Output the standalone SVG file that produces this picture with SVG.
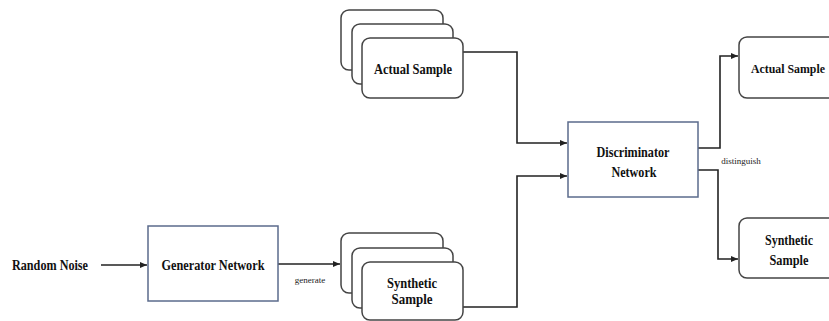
<svg xmlns="http://www.w3.org/2000/svg" width="829" height="321" viewBox="0 0 829 321">
<style>
.lbl{font-family:"Liberation Serif","Times New Roman",serif;font-weight:bold;font-size:14.5px;fill:#111;text-anchor:middle}
.sm{font-family:"Liberation Serif","Times New Roman",serif;font-size:9px;fill:#222;text-anchor:middle}
.net{fill:#fff;stroke:#5b6b8c;stroke-width:1.5}
.card{fill:#fff;stroke:#444;stroke-width:1.5}
.con{fill:none;stroke:#222;stroke-width:1.6}
</style>
<defs>
<marker id="ah" markerWidth="8" markerHeight="8" refX="7" refY="4" orient="auto" markerUnits="userSpaceOnUse">
<path d="M0,1 L7,4 L0,7 Z" fill="#222"/>
</marker>
</defs>
<rect width="829" height="321" fill="#fff"/>
<g id="connectors">
<path class="con" d="M101,265 H147" marker-end="url(#ah)"/>
<path class="con" d="M278,264 H340" marker-end="url(#ah)"/>
<path class="con" d="M463,52 H517 V143 H567" marker-end="url(#ah)"/>
<path class="con" d="M463,307 H517 V176 H567" marker-end="url(#ah)"/>
<path class="con" d="M698,148 H720 V56 H738" marker-end="url(#ah)"/>
<path class="con" d="M698,170 H718 V259 H738" marker-end="url(#ah)"/>
<text class="sm" x="310" y="283">generate</text>
<text class="sm" x="741" y="164">distinguish</text>
</g>
<g id="random-noise">
<text class="lbl" x="50" y="270" textLength="76" lengthAdjust="spacingAndGlyphs">Random Noise</text>
</g>
<g id="generator">
<rect class="net" x="148" y="226" width="130" height="75"/>
<text class="lbl" x="213" y="270" textLength="103" lengthAdjust="spacingAndGlyphs">Generator Network</text>
</g>
<g id="actual-stack">
<rect class="card" x="341" y="10" width="102" height="60" rx="8"/>
<rect class="card" x="352" y="24" width="101" height="60" rx="8"/>
<rect class="card" x="362" y="38" width="101" height="60" rx="8"/>
<text class="lbl" x="413" y="74" textLength="78" lengthAdjust="spacingAndGlyphs">Actual Sample</text>
</g>
<g id="synthetic-stack">
<rect class="card" x="341" y="233" width="102" height="60" rx="8"/>
<rect class="card" x="352" y="248" width="101" height="60" rx="8"/>
<rect class="card" x="362" y="262" width="101" height="58" rx="8"/>
<text class="lbl" x="412" y="288" textLength="50" lengthAdjust="spacingAndGlyphs">Synthetic</text>
<text class="lbl" x="412" y="304" textLength="41" lengthAdjust="spacingAndGlyphs">Sample</text>
</g>
<g id="discriminator">
<rect class="net" x="568" y="122" width="130" height="75"/>
<text class="lbl" x="633" y="157" textLength="73" lengthAdjust="spacingAndGlyphs">Discriminator</text>
<text class="lbl" x="634" y="177" textLength="45" lengthAdjust="spacingAndGlyphs">Network</text>
</g>
<g id="actual-out">
<rect class="card" x="739" y="37" width="104" height="61" rx="8"/>
<text class="lbl" x="788" y="73" style="font-size:12.5px" textLength="74" lengthAdjust="spacingAndGlyphs">Actual Sample</text>
</g>
<g id="synthetic-out">
<rect class="card" x="739" y="218" width="104" height="60" rx="8"/>
<text class="lbl" x="789" y="245" textLength="48" lengthAdjust="spacingAndGlyphs">Synthetic</text>
<text class="lbl" x="789" y="265" textLength="39" lengthAdjust="spacingAndGlyphs">Sample</text>
</g>
</svg>
